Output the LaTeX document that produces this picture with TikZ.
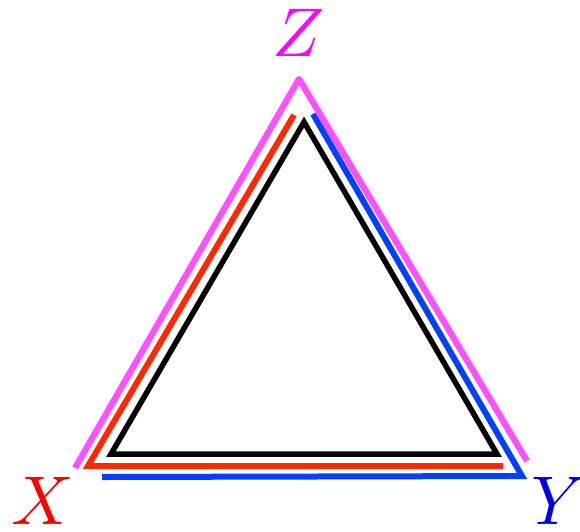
\documentclass[tikz,border=0pt]{standalone}
\usepackage{graphicx}
\begin{document}
\begin{tikzpicture}[x=1pt,y=-1pt,
  side/.style={line width=6pt},
  lbl/.style={inner sep=0pt}]
\definecolor{lred}{RGB}{255,40,0}
\definecolor{lblue}{RGB}{0,64,255}
\definecolor{lmag}{RGB}{255,80,255}
\definecolor{tred}{RGB}{255,0,0}
\definecolor{tblue}{RGB}{0,0,235}
\definecolor{tmag}{RGB}{255,0,255}
\useasboundingbox (0,0) rectangle (580,531);
% black triangle
\coordinate (a) at (111,454);
\coordinate (b) at (497,454);
\coordinate (c) at (304,122);
\draw[side, line width=5.5pt] (a) -- (b) -- (c) -- cycle;
% red path
\coordinate (r1) at (294,115);
\coordinate (r2) at (88,466);
\coordinate (r3) at (503,466);
\draw[side, lred] (r1) -- (r2) -- (r3);
% blue path
\coordinate (b1) at (313,114);
\coordinate (b2) at (522,476);
\coordinate (b3) at (102,477);
\draw[side, lblue] (b1) -- (b2) -- (b3);
% magenta path
\coordinate (m1) at (75,468);
\coordinate (m2) at (299,79);
\coordinate (m3) at (527,461);
\draw[side, lmag, line width=6.3pt, line join=round] (m1) -- (m2) -- (m3);
% labels
\node[lbl, tred] (X) at (43,501) {\scalebox{6.9}{$X$}};
\node[lbl, tblue] (Y) at (559,501) {\scalebox{6.9}{$Y$}};
\node[lbl, tmag] (Z) at (299,33) {\scalebox{6.9}{$Z$}};
\end{tikzpicture}
\end{document}
